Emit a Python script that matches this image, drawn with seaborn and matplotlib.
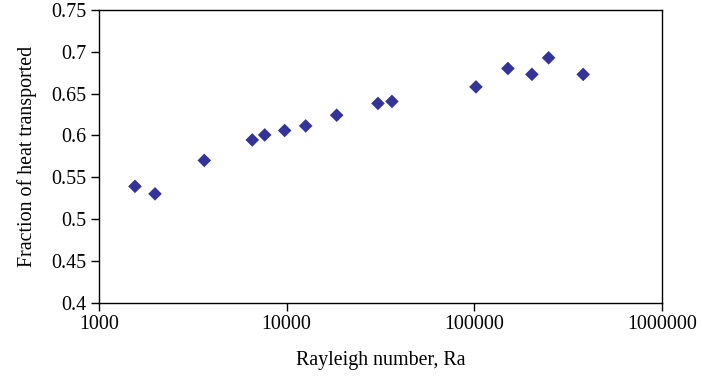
import matplotlib
matplotlib.use("Agg")
import matplotlib.pyplot as plt
import matplotlib.ticker as mticker
import pandas as pd
import seaborn as sns

# Rayleigh number and measured fraction of heat transported
rayleigh = [1555, 1988, 3640, 6556, 7636, 9757, 12630, 18470, 30650, 36390,
            102000, 151000, 202700, 248800, 380300]
fraction = [0.539, 0.530, 0.570, 0.5945, 0.6005, 0.6058, 0.6113, 0.6241, 0.6382, 0.6406,
            0.658, 0.680, 0.673, 0.6928, 0.6729]

x_ticks = [1000, 10000, 100000, 1000000]
y_ticks = [0.4, 0.45, 0.5, 0.55, 0.6, 0.65, 0.7, 0.75]

df = pd.DataFrame({"Ra": rayleigh, "frac": fraction})

sns.set_style("ticks")
plt.rcParams["font.family"] = ["Liberation Serif", "DejaVu Serif"]

W, H = 702, 376
fig = plt.figure(figsize=(W / 100, H / 100), dpi=100)
left, right, top, bottom = 99, 662, 10, 302.5
ax = fig.add_axes([left / W, 1 - bottom / H, (right - left) / W, (bottom - top) / H])

sns.scatterplot(data=df, x="Ra", y="frac", marker="D", s=48, color="#333399",
                edgecolor="none", ax=ax, legend=False)

ax.set_xscale("log")
ax.set_xlim(1000, 1000000)
ax.set_ylim(0.4, 0.75)
ax.set_xticks(x_ticks)
ax.set_xticklabels([str(v) for v in x_ticks])
ax.xaxis.set_minor_locator(mticker.NullLocator())
ax.set_yticks(y_ticks)
ax.set_yticklabels([f"{v:g}" for v in y_ticks])

for s in ax.spines.values():
    s.set_visible(True)
    s.set_color("black")
    s.set_linewidth(1.0)

ax.tick_params(axis="both", direction="out", length=6, width=1.0, color="black",
               labelsize=14.4, labelcolor="black", pad=3)

ax.set_xlabel("Rayleigh number, Ra", fontsize=14.4, color="black", labelpad=12)
ax.set_ylabel("Fraction of heat transported", fontsize=14.4, color="black", labelpad=10)

fig.savefig("out.png", dpi=100, facecolor="white")
